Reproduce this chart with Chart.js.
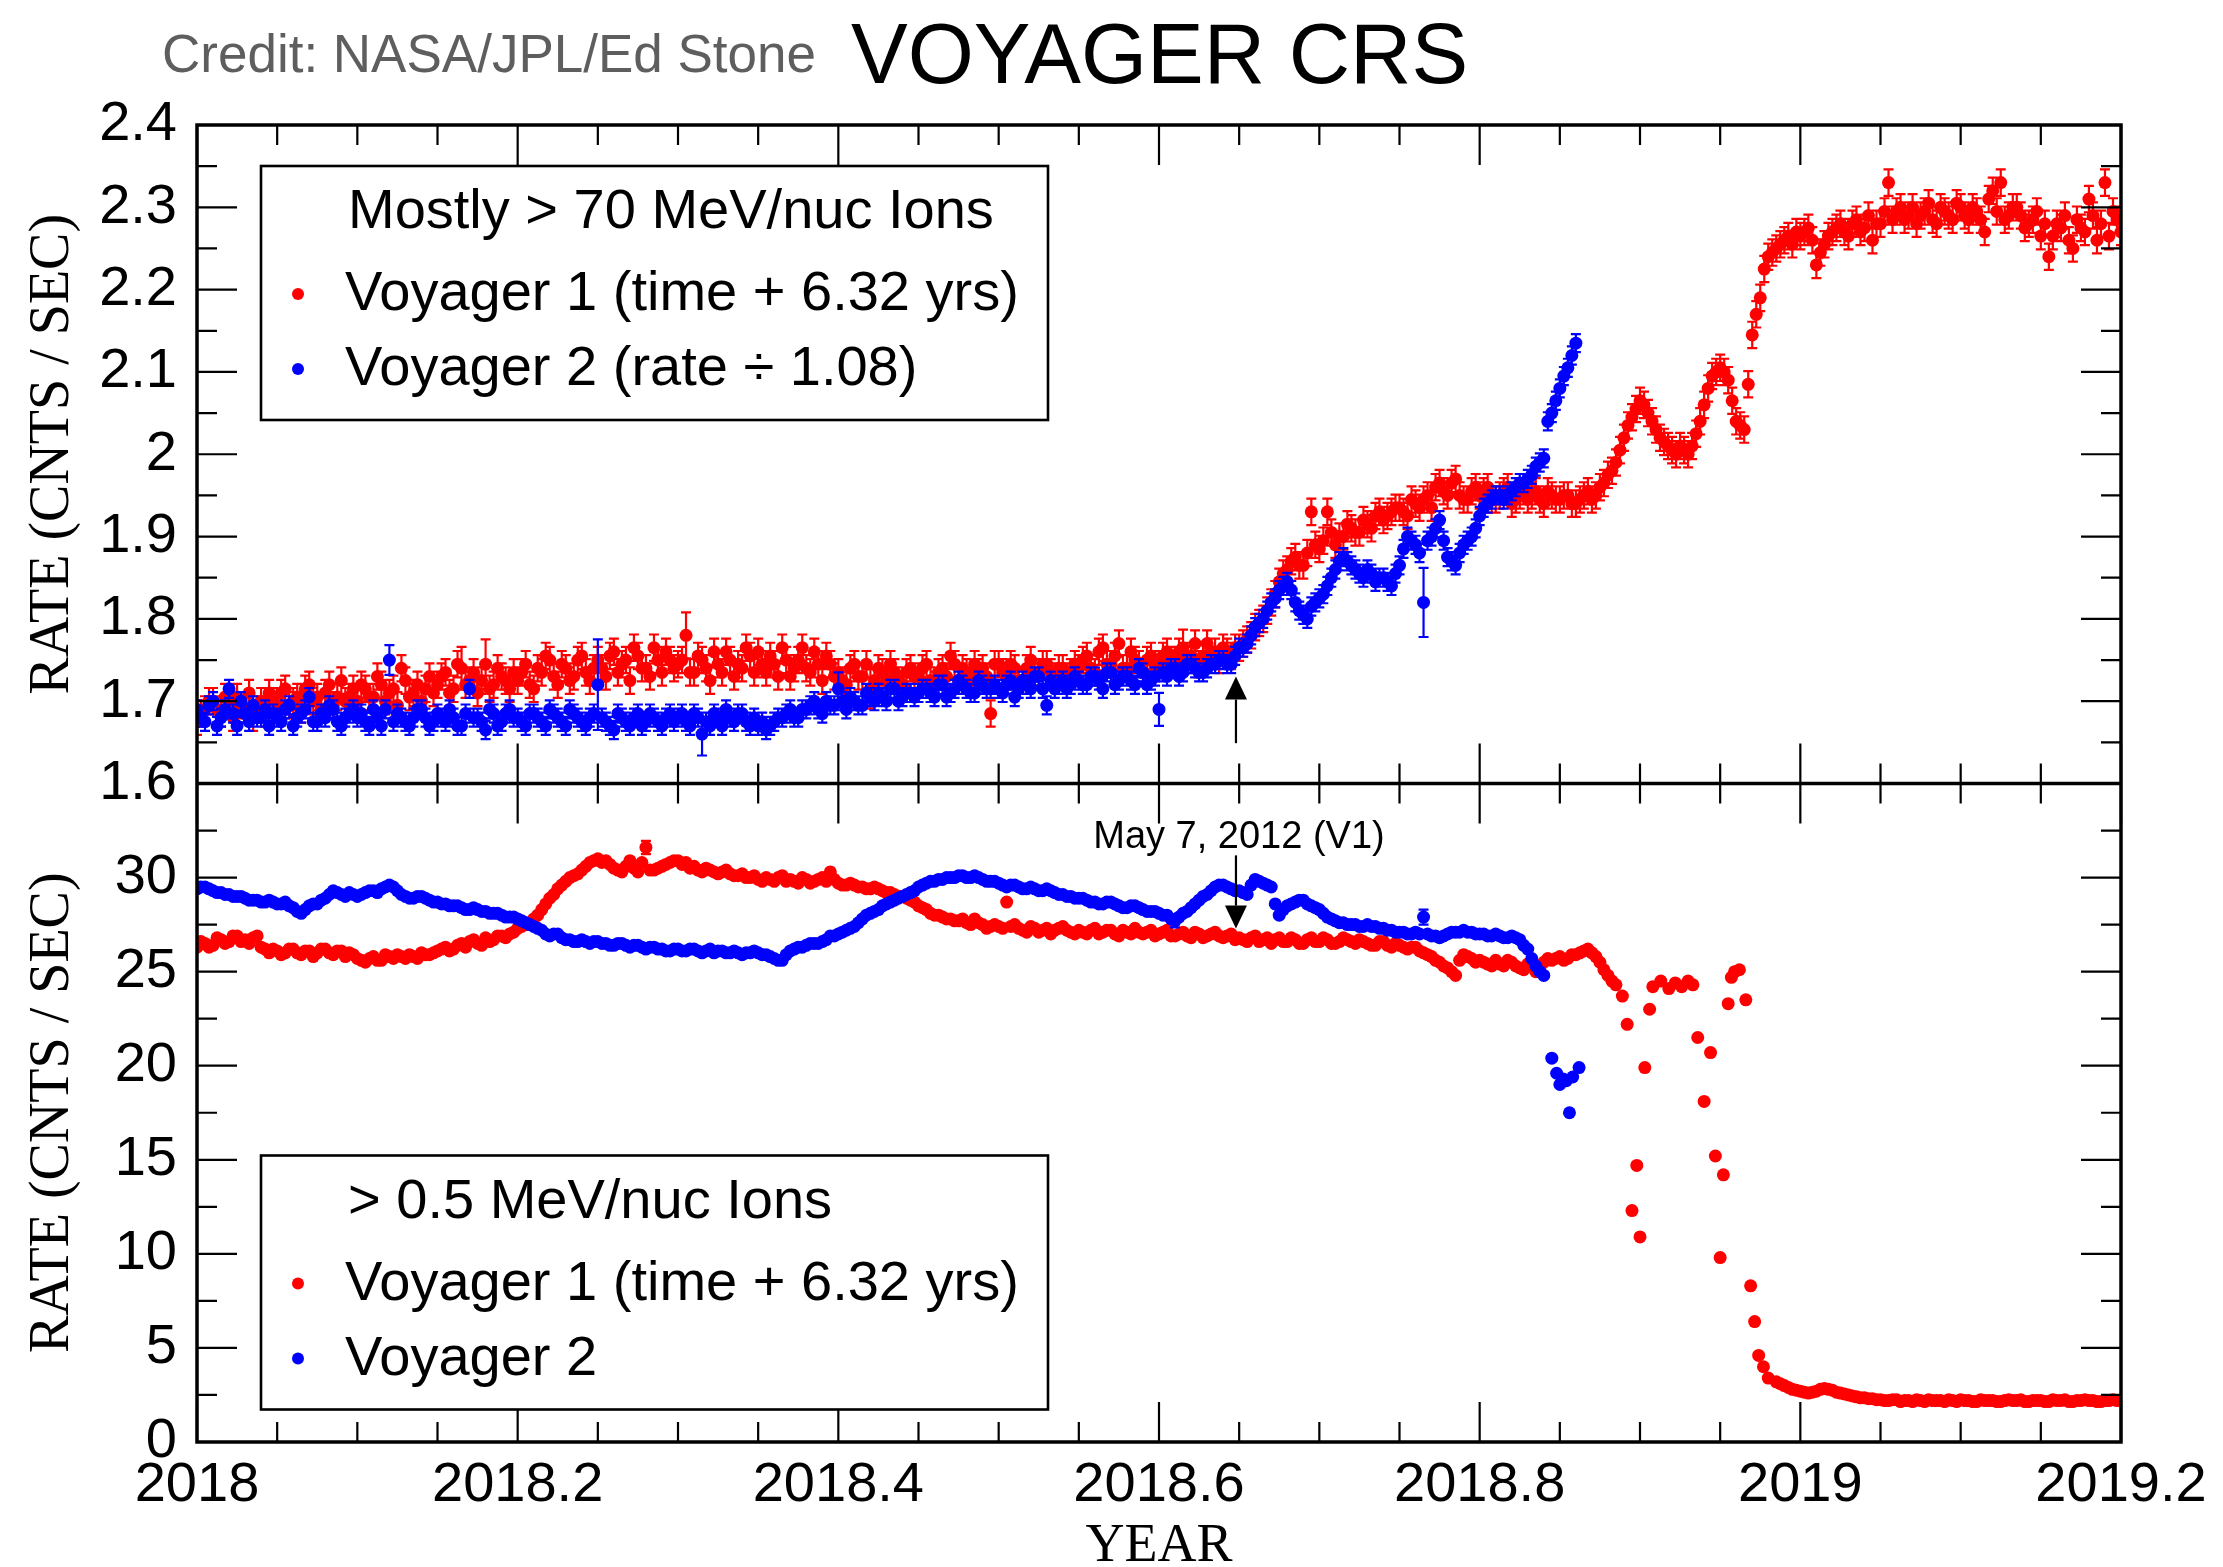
<!DOCTYPE html>
<html>
<head>
<meta charset="utf-8">
<title>Voyager CRS</title>
<script src="https://cdn.jsdelivr.net/npm/chart.js@4.4.1/dist/chart.umd.min.js"></script>
<style>
  html, body { margin: 0; padding: 0; background: #fff; }
  canvas { display: block; }
</style>
</head>
<body>
<canvas id="crs" width="2223" height="1567"></canvas>
<script>
// regular series are sampled every 0.005 yr from their start year;
// the *Mid arrays hold the samples that fall half a step later
const STEP = 0.005;

const yearTicks = [2018, 2018.2, 2018.4, 2018.6, 2018.8, 2019, 2019.2];
const highRateTicks = [1.6, 1.7, 1.8, 1.9, 2.0, 2.1, 2.2, 2.3, 2.4];
const lowRateTicks = [0, 5, 10, 15, 20, 25, 30, 35];

// > 70 MeV/nuc, Voyager 1 (time + 6.32 yrs)
const v1HighStart = 2018.0;
const v1HighRate = [
  1.675, 1.690, 1.700, 1.685, 1.695, 1.705, 1.690, 1.680, 1.700, 1.710, // 2018.00
  1.695, 1.715, 1.700, 1.690, 1.720, 1.705, 1.710, 1.695, 1.725, 1.705, // 2018.05
  1.700, 1.715, 1.705, 1.720, 1.710, 1.695, 1.725, 1.710, 1.700, 1.730, // 2018.10
  1.720, 1.735, 1.715, 1.740, 1.725, 1.710, 1.745, 1.720, 1.730, 1.715, // 2018.15
  1.725, 1.745, 1.715, 1.735, 1.750, 1.720, 1.740, 1.730, 1.755, 1.725, // 2018.20
  1.750, 1.730, 1.760, 1.745, 1.725, 1.755, 1.740, 1.765, 1.735, 1.750, // 2018.25
  1.745, 1.780, 1.735, 1.750, 1.725, 1.745, 1.760, 1.730, 1.740, 1.755, // 2018.30
  1.760, 1.735, 1.745, 1.765, 1.730, 1.750, 1.740, 1.760, 1.725, 1.745, // 2018.35
  1.735, 1.720, 1.745, 1.730, 1.715, 1.740, 1.725, 1.735, 1.720, 1.740, // 2018.40
  1.730, 1.745, 1.720, 1.740, 1.755, 1.725, 1.735, 1.745, 1.740, 1.685, // 2018.45
  1.745, 1.730, 1.740, 1.725, 1.750, 1.735, 1.745, 1.730, 1.740, 1.735, // 2018.50
  1.740, 1.755, 1.735, 1.765, 1.745, 1.770, 1.740, 1.750, 1.735, 1.755, // 2018.55
  1.745, 1.760, 1.750, 1.765, 1.755, 1.745, 1.770, 1.760, 1.765, 1.755, // 2018.60
  1.765, 1.775, 1.790, 1.800, 1.820, 1.845, 1.860, 1.875, 1.865, 1.930, // 2018.65
  1.885, 1.930, 1.890, 1.900, 1.910, 1.905, 1.915, 1.925, 1.920, 1.930, // 2018.70
  1.935, 1.925, 1.940, 1.945, 1.935, 1.965, 1.950, 1.970, 1.945, 1.955, // 2018.75
  1.950, 1.960, 1.945, 1.955, 1.940, 1.950, 1.945, 1.955, 1.940, 1.950, // 2018.80
  1.945, 1.950, 1.940, 1.950, 1.945, 1.960, 1.975, 1.990, 2.020, 2.045, // 2018.85
  2.065, 2.050, 2.030, 2.015, 2.005, 2.010, 2.000, 2.025, 2.060, 2.095, // 2018.90
  2.105, 2.090, 2.040, 2.030, 2.145, 2.190, 2.240, 2.250, 2.260, 2.255, // 2018.95
  2.265, 2.275, 2.230, 2.255, 2.270, 2.280, 2.265, 2.285, 2.275, 2.260, // 2019.00
  2.280, 2.330, 2.295, 2.285, 2.300, 2.290, 2.305, 2.280, 2.295, 2.285, // 2019.05
  2.300, 2.285, 2.295, 2.270, 2.320, 2.330, 2.290, 2.300, 2.275, 2.285, // 2019.10
  2.265, 2.240, 2.280, 2.290, 2.250, 2.275, 2.310, 2.260, 2.330, 2.295, // 2019.15
  2.270                                                                 // 2019.20
];
const v1HighMidStart = 2018.0025;
const v1HighMid = [
  1.685, 1.700, 1.690, 1.705, 1.680, 1.695, 1.710, 1.690, 1.685, 1.700, // 2018.0025
  1.710, 1.695, 1.705, 1.715, 1.700, 1.690, 1.720, 1.705, 1.700, 1.715, // 2018.0525
  1.720, 1.705, 1.730, 1.700, 1.715, 1.740, 1.705, 1.720, 1.715, 1.710, // 2018.1025
  1.730, 1.710, 1.745, 1.720, 1.735, 1.725, 1.715, 1.740, 1.725, 1.735, // 2018.1525
  1.735, 1.720, 1.740, 1.755, 1.730, 1.745, 1.725, 1.750, 1.735, 1.740, // 2018.2025
  1.740, 1.755, 1.735, 1.750, 1.765, 1.740, 1.730, 1.750, 1.760, 1.740, // 2018.2525
  1.750, 1.735, 1.755, 1.740, 1.760, 1.735, 1.750, 1.745, 1.765, 1.735, // 2018.3025
  1.745, 1.755, 1.730, 1.750, 1.740, 1.765, 1.735, 1.745, 1.755, 1.730, // 2018.3525
  1.725, 1.740, 1.730, 1.745, 1.725, 1.735, 1.745, 1.725, 1.735, 1.730, // 2018.4025
  1.740, 1.725, 1.735, 1.730, 1.745, 1.740, 1.725, 1.735, 1.730, 1.745, // 2018.4525
  1.735, 1.745, 1.725, 1.740, 1.730, 1.745, 1.735, 1.740, 1.730, 1.745, // 2018.5025
  1.750, 1.740, 1.760, 1.745, 1.755, 1.740, 1.760, 1.745, 1.750, 1.740, // 2018.5525
  1.755, 1.745, 1.760, 1.750, 1.770, 1.755, 1.760, 1.750, 1.760, 1.765, // 2018.6025
  1.770, 1.780, 1.795, 1.810, 1.830, 1.855, 1.870, 1.865, 1.880, 1.890, // 2018.6525
  1.895, 1.905, 1.900, 1.915, 1.905, 1.920, 1.910, 1.930, 1.925, 1.935, // 2018.7025
  1.930, 1.945, 1.935, 1.950, 1.960, 1.955, 1.965, 1.950, 1.945, 1.960, // 2018.7525
  1.955, 1.945, 1.950, 1.960, 1.945, 1.955, 1.950, 1.945, 1.955, 1.945, // 2018.8025
  1.950, 1.940, 1.945, 1.955, 1.950, 1.965, 1.980, 2.005, 2.035, 2.055, // 2018.8525
  2.060, 2.040, 2.020, 2.010, 2.000, 2.005, 2.010, 2.040, 2.080, 2.100, // 2018.9025
  2.100, 2.065, 2.035, 2.085, 2.170, 2.225, 2.245, 2.255, 2.265, 2.270, // 2018.9525
  2.270, 2.260, 2.245, 2.265, 2.275, 2.270, 2.280, 2.270, 2.290, 2.280, // 2019.0025
  2.295, 2.285, 2.300, 2.290, 2.280, 2.295, 2.285, 2.300, 2.290, 2.305, // 2019.0525
  2.290, 2.300, 2.285, 2.310, 2.295, 2.285, 2.300, 2.290, 2.280, 2.295, // 2019.1025
  2.280, 2.265, 2.275, 2.260, 2.285, 2.270, 2.290, 2.280, 2.265, 2.285  // 2019.1525
];
const v1HighErr = 0.016;
const v1HighWideErr = [[2018.165, 0.026], [2018.18, 0.03], [2018.305, 0.028], [2018.42, 0.024], [2018.615, 0.022]];

// > 70 MeV/nuc, Voyager 2 (rate / 1.08)
const v2HighStart = 2018.0;
const v2HighRate = [
  1.690, 1.675, 1.700, 1.680, 1.715, 1.670, 1.685, 1.695, 1.680, 1.670, // 2018.00
  1.680, 1.690, 1.670, 1.685, 1.705, 1.675, 1.680, 1.690, 1.670, 1.685, // 2018.05
  1.680, 1.675, 1.690, 1.670, 1.750, 1.685, 1.675, 1.680, 1.690, 1.670, // 2018.10
  1.685, 1.675, 1.680, 1.670, 1.715, 1.680, 1.665, 1.685, 1.675, 1.690, // 2018.15
  1.680, 1.670, 1.685, 1.675, 1.690, 1.680, 1.670, 1.685, 1.675, 1.680, // 2018.20
  1.720, 1.675, 1.665, 1.680, 1.670, 1.685, 1.675, 1.680, 1.670, 1.685, // 2018.25
  1.680, 1.675, 1.685, 1.660, 1.670, 1.680, 1.690, 1.675, 1.685, 1.670, // 2018.30
  1.670, 1.665, 1.675, 1.680, 1.690, 1.680, 1.690, 1.700, 1.685, 1.695, // 2018.35
  1.715, 1.690, 1.700, 1.695, 1.705, 1.710, 1.700, 1.715, 1.705, 1.710, // 2018.40
  1.710, 1.715, 1.705, 1.720, 1.710, 1.725, 1.715, 1.710, 1.720, 1.715, // 2018.45
  1.715, 1.720, 1.705, 1.725, 1.715, 1.730, 1.695, 1.715, 1.725, 1.720, // 2018.50
  1.725, 1.720, 1.730, 1.715, 1.735, 1.725, 1.730, 1.720, 1.735, 1.725, // 2018.55
  1.690, 1.730, 1.740, 1.735, 1.745, 1.735, 1.740, 1.745, 1.750, 1.745, // 2018.60
  1.765, 1.770, 1.790, 1.800, 1.820, 1.835, 1.845, 1.820, 1.805, 1.815, // 2018.65
  1.825, 1.840, 1.860, 1.875, 1.865, 1.855, 1.860, 1.845, 1.850, 1.840, // 2018.70
  1.865, 1.900, 1.890, 1.820, 1.900, 1.920, 1.875, 1.865, 1.890, 1.900, // 2018.75
  1.925, 1.940, 1.950, 1.945, 1.955, 1.965, 1.970, 1.985, 1.995, 2.050, // 2018.80
  2.080, 2.105, 2.135                                                   // 2018.85
];
const v2HighMidStart = 2018.0025;
const v2HighMid = [
  1.680, 1.695, 1.670, 1.690, 1.685, 1.700, 1.675, 1.680, 1.690, 1.685, // 2018.0025
  1.675, 1.695, 1.680, 1.690, 1.675, 1.685, 1.695, 1.675, 1.680, 1.690, // 2018.0525
  1.685, 1.670, 1.680, 1.690, 1.675, 1.680, 1.670, 1.690, 1.680, 1.675, // 2018.1025
  1.680, 1.690, 1.670, 1.685, 1.680, 1.675, 1.690, 1.670, 1.685, 1.680, // 2018.1525
  1.675, 1.685, 1.680, 1.670, 1.685, 1.675, 1.690, 1.680, 1.670, 1.685, // 2018.2025
  1.680, 1.670, 1.685, 1.675, 1.680, 1.670, 1.685, 1.675, 1.680, 1.675, // 2018.2525
  1.685, 1.670, 1.680, 1.675, 1.685, 1.670, 1.680, 1.685, 1.675, 1.680, // 2018.3025
  1.675, 1.670, 1.680, 1.685, 1.680, 1.690, 1.695, 1.690, 1.700, 1.695, // 2018.3525
  1.700, 1.705, 1.695, 1.710, 1.700, 1.705, 1.715, 1.700, 1.710, 1.705, // 2018.4025
  1.715, 1.710, 1.720, 1.705, 1.715, 1.720, 1.710, 1.725, 1.715, 1.720, // 2018.4525
  1.710, 1.725, 1.715, 1.720, 1.730, 1.715, 1.725, 1.720, 1.715, 1.730, // 2018.5025
  1.720, 1.730, 1.725, 1.735, 1.720, 1.730, 1.725, 1.740, 1.720, 1.730, // 2018.5525
  1.735, 1.740, 1.730, 1.745, 1.740, 1.735, 1.745, 1.750, 1.745, 1.755, // 2018.6025
  1.765, 1.780, 1.795, 1.810, 1.825, 1.840, 1.835, 1.810, 1.800, 1.820, // 2018.6525
  1.830, 1.850, 1.870, 1.870, 1.860, 1.850, 1.855, 1.850, 1.845, 1.855, // 2018.7025
  1.885, 1.895, 1.880, 1.895, 1.910, 1.895, 1.870, 1.880, 1.895, 1.910, // 2018.7525
  1.935, 1.945, 1.950, 1.950, 1.960, 1.965, 1.975, 1.990, 2.040, 2.065, // 2018.8025
  2.095, 2.120                                                          // 2018.8525
];
const v2HighErr = 0.011;
const v2HighWideErr = [[2018.12, 0.018], [2018.25, 0.055], [2018.315, 0.026], [2018.4, 0.02], [2018.6, 0.02], [2018.765, 0.042]];

// > 0.5 MeV/nuc, Voyager 1 (time + 6.32 yrs)
const v1LowStart = 2018.0;
const v1LowRate = [
  26.3, 26.5, 26.4, 26.7, 26.6, 26.9, 26.7, 26.8, 26.3, 26.0, // 2018.00
  26.1, 26.0, 26.2, 25.9, 26.1, 26.0, 26.2, 25.9, 26.1, 26.0, // 2018.05
  25.7, 25.5, 25.8, 25.6, 25.8, 25.9, 25.7, 25.8, 26.0, 25.9, // 2018.10
  26.1, 26.3, 26.2, 26.5, 26.6, 26.5, 26.8, 26.7, 26.9, 27.0, // 2018.15
  27.3, 27.5, 27.8, 28.3, 28.9, 29.4, 29.8, 30.1, 30.4, 30.8, // 2018.20
  31.0, 30.9, 30.5, 30.3, 30.9, 30.3, 31.6, 30.4, 30.6, 30.8, // 2018.25
  30.9, 30.8, 30.6, 30.3, 30.4, 30.2, 30.4, 30.1, 30.2, 30.0, // 2018.30
  29.9, 30.0, 29.8, 30.1, 29.9, 29.7, 29.9, 29.8, 30.0, 30.3, // 2018.35
  29.7, 29.6, 29.6, 29.5, 29.4, 29.4, 29.2, 29.1, 29.0, 28.8, // 2018.40
  28.5, 28.3, 28.0, 27.9, 27.8, 27.7, 27.6, 27.8, 27.5, 27.4, // 2018.45
  27.4, 28.7, 27.5, 27.2, 27.4, 27.1, 27.3, 27.2, 27.4, 27.1, // 2018.50
  27.2, 27.0, 27.3, 27.1, 27.2, 26.9, 27.1, 27.3, 27.0, 27.2, // 2018.55
  27.0, 27.2, 26.9, 27.1, 26.8, 27.0, 26.9, 27.1, 26.8, 27.0, // 2018.60
  26.8, 26.6, 26.9, 26.7, 26.5, 26.8, 26.6, 26.7, 26.5, 26.8, // 2018.65
  26.6, 26.7, 26.5, 26.8, 26.6, 26.7, 26.5, 26.4, 26.6, 26.3, // 2018.70
  26.4, 26.2, 26.3, 26.0, 25.8, 25.5, 25.2, 24.8, 25.9, 25.7, // 2018.75
  25.6, 25.4, 25.6, 25.3, 25.5, 25.2, 25.4, 25.0, 25.5, 25.6, // 2018.80
  25.8, 25.7, 25.9, 26.1, 26.0, 25.5, 24.8, 24.3              // 2018.85
];
const v1LowMidStart = 2018.0025;
const v1LowMid = [
  26.6, 26.3, 26.8, 26.5, 26.9, 26.6, 26.5, 26.9, 26.2, 26.2, // 2018.0025
  25.9, 26.2, 26.0, 26.1, 25.8, 26.2, 26.0, 26.1, 25.8, 25.9, // 2018.0525
  25.6, 25.7, 25.6, 25.9, 25.7, 25.8, 25.9, 25.7, 25.9, 26.0, // 2018.1025
  26.2, 26.1, 26.4, 26.3, 26.7, 26.4, 26.6, 26.9, 26.8, 27.1, // 2018.1525
  27.4, 27.6, 28.0, 28.6, 29.1, 29.6, 30.0, 30.2, 30.6, 30.9, // 2018.2025
  30.8, 30.7, 30.4, 30.6, 30.5, 30.8, 30.4, 30.5, 30.7, 30.9, // 2018.2525
  30.7, 30.5, 30.4, 30.5, 30.3, 30.3, 30.2, 30.1, 30.0, 30.1, // 2018.3025
  29.8, 29.9, 30.0, 29.8, 29.8, 30.0, 29.7, 29.9, 29.8, 29.9, // 2018.3525
  29.6, 29.7, 29.5, 29.4, 29.5, 29.3, 29.2, 29.0, 28.9, 28.7, // 2018.4025
  28.4, 28.1, 28.0, 27.8, 27.7, 27.8, 27.5, 27.6, 27.3, 27.5, // 2018.4525
  27.3, 27.4, 27.3, 27.1, 27.3, 27.2, 27.0, 27.3, 27.2, 27.0, // 2018.5025
  27.1, 27.2, 27.0, 27.2, 27.0, 27.2, 27.0, 27.1, 27.1, 26.9, // 2018.5525
  27.1, 26.9, 27.0, 26.9, 27.1, 26.8, 27.0, 26.9, 26.9, 26.7, // 2018.6025
  26.7, 26.8, 26.6, 26.8, 26.7, 26.6, 26.8, 26.5, 26.7, 26.6, // 2018.6525
  26.8, 26.5, 26.6, 26.7, 26.5, 26.6, 26.4, 26.6, 26.4, 26.5, // 2018.7025
  26.3, 26.3, 26.1, 25.9, 25.6, 25.3, 25.0, 25.6, 25.8, 25.5, // 2018.7525
  25.5, 25.3, 25.4, 25.6, 25.3, 25.1, 25.3, 25.2, 25.7, 25.7, // 2018.8025
  25.6, 25.9, 26.0, 26.2, 25.8, 25.1, 24.5                    // 2018.8525
];
// the scattered points during the drop are irregular in time
const v1LowDropYear = [
  2018.889, 2018.892, 2018.895, 2018.898, 2018.900, 2018.903, 2018.906, 2018.908,
  2018.913, 2018.918, 2018.922, 2018.926, 2018.930, 2018.933, 2018.936, 2018.940,
  2018.944, 2018.947, 2018.950, 2018.952, 2018.955, 2018.957, 2018.959, 2018.962,
  2018.966, 2018.969, 2018.9715, 2018.974, 2018.977, 2018.980
];
const v1LowDropRate = [
  23.7, 22.2, 12.3, 14.7, 10.9, 19.9, 23.0, 24.2,
  24.5, 24.1, 24.4, 24.2, 24.5, 24.3, 21.5, 18.1,
  20.7, 15.2, 9.8, 14.2, 23.3, 24.7, 25.0, 25.1,
  23.5, 8.3, 6.4, 4.6, 4.0, 3.4
];
const v1LowTailStart = 2018.985;
const v1LowTailRate = [
  3.2, 3.0, 2.8,                                         // 2018.985
  2.7, 2.6, 2.7, 2.85, 2.75, 2.6, 2.5, 2.4, 2.35, 2.3,   // 2019.00
  2.25, 2.2, 2.25, 2.2, 2.15, 2.2, 2.25, 2.2, 2.15, 2.2, // 2019.05
  2.25, 2.2, 2.15, 2.2, 2.2, 2.15, 2.25, 2.2, 2.15, 2.2, // 2019.10
  2.2, 2.15, 2.2, 2.25, 2.15, 2.2, 2.2, 2.15, 2.2, 2.25, // 2019.15
  2.2                                                    // 2019.20
];
const v1LowTailMidStart = 2018.9875;
const v1LowTailMid = [
  3.1, 2.9, 2.75,                                             // 2018.9875
  2.65, 2.65, 2.8, 2.8, 2.65, 2.55, 2.45, 2.35, 2.3, 2.25,    // 2019.0025
  2.2, 2.25, 2.15, 2.2, 2.25, 2.15, 2.2, 2.2, 2.25, 2.15,     // 2019.0525
  2.2, 2.15, 2.25, 2.2, 2.15, 2.2, 2.2, 2.25, 2.15, 2.2,      // 2019.1025
  2.15, 2.25, 2.2, 2.15, 2.2, 2.25, 2.2, 2.15, 2.2, 2.2       // 2019.1525
];
const v1LowWideErr = [[2018.28, 0.35]];

// > 0.5 MeV/nuc, Voyager 2
const v2LowStart = 2018.0;
const v2LowRate = [
  29.4, 29.5, 29.3, 29.2, 29.1, 29.0, 28.9, 28.8, 28.7, 28.8, // 2018.00
  28.6, 28.7, 28.4, 28.1, 28.5, 28.6, 28.9, 29.3, 29.1, 29.2, // 2018.05
  29.0, 29.2, 29.3, 29.4, 29.6, 29.3, 29.0, 28.9, 29.0, 28.8, // 2018.10
  28.7, 28.6, 28.5, 28.4, 28.3, 28.3, 28.2, 28.1, 28.0, 27.9, // 2018.15
  27.8, 27.6, 27.4, 27.2, 26.9, 27.0, 26.7, 26.6, 26.7, 26.5, // 2018.20
  26.6, 26.5, 26.4, 26.5, 26.3, 26.4, 26.2, 26.3, 26.2, 26.1, // 2018.25
  26.2, 26.1, 26.2, 26.0, 26.2, 26.1, 26.0, 26.1, 25.9, 26.0, // 2018.30
  26.0, 25.9, 25.7, 25.6, 26.1, 26.3, 26.4, 26.5, 26.6, 26.9, // 2018.35
  27.0, 27.2, 27.4, 27.8, 28.1, 28.3, 28.6, 28.8, 29.0, 29.2, // 2018.40
  29.5, 29.7, 29.8, 29.9, 30.0, 30.1, 30.0, 30.1, 29.9, 29.8, // 2018.45
  29.7, 29.5, 29.6, 29.4, 29.5, 29.3, 29.4, 29.2, 29.1, 29.0, // 2018.50
  28.9, 28.8, 28.7, 28.6, 28.7, 28.5, 28.4, 28.5, 28.3, 28.2, // 2018.55
  28.1, 28.0, 27.7, 28.1, 28.4, 28.8, 29.1, 29.5, 29.6, 29.4, // 2018.60
  29.3, 29.1, 29.9, 29.7, 29.5, 28.0, 28.5, 28.7, 28.8, 28.5, // 2018.65
  28.3, 27.9, 27.7, 27.6, 27.5, 27.4, 27.5, 27.4, 27.3, 27.2, // 2018.70
  27.1, 27.0, 27.1, 27.9, 26.9, 26.8, 27.0, 27.1, 27.2, 27.1, // 2018.75
  27.0, 26.9, 27.0, 26.8, 26.9, 26.7, 26.2, 25.3, 24.8        // 2018.80
];
const v2LowMidStart = 2018.0025;
const v2LowMid = [
  29.5, 29.4, 29.2, 29.1, 29.0, 29.0, 28.8, 28.8, 28.7, 28.7, // 2018.0025
  28.6, 28.5, 28.2, 28.3, 28.6, 28.8, 29.1, 29.2, 29.0, 29.1, // 2018.0525
  29.1, 29.3, 29.2, 29.5, 29.5, 29.1, 28.9, 29.0, 28.9, 28.7, // 2018.1025
  28.6, 28.5, 28.5, 28.3, 28.4, 28.2, 28.1, 28.1, 27.9, 27.9, // 2018.1525
  27.7, 27.5, 27.3, 27.0, 27.0, 26.8, 26.7, 26.6, 26.6, 26.6, // 2018.2025
  26.5, 26.4, 26.5, 26.4, 26.4, 26.3, 26.3, 26.2, 26.1, 26.2, // 2018.2525
  26.1, 26.2, 26.1, 26.1, 26.0, 26.1, 26.0, 26.0, 26.0, 26.1, // 2018.3025
  25.9, 25.8, 25.6, 25.9, 26.2, 26.3, 26.5, 26.5, 26.7, 26.9, // 2018.3525
  27.1, 27.3, 27.6, 28.0, 28.2, 28.5, 28.7, 28.9, 29.1, 29.3, // 2018.4025
  29.6, 29.8, 29.9, 30.0, 30.0, 30.1, 30.0, 30.0, 29.8, 29.8, // 2018.4525
  29.6, 29.6, 29.5, 29.4, 29.4, 29.3, 29.3, 29.1, 29.0, 28.9, // 2018.5025
  28.9, 28.7, 28.6, 28.7, 28.6, 28.4, 28.5, 28.4, 28.2, 28.2, // 2018.5525
  28.0, 27.8, 27.9, 28.2, 28.6, 29.0, 29.3, 29.6, 29.5, 29.3, // 2018.6025
  29.2, 29.6, 29.8, 29.6, 28.6, 28.3, 28.6, 28.8, 28.6, 28.4, // 2018.6525
  28.1, 27.8, 27.6, 27.5, 27.5, 27.4, 27.4, 27.3, 27.2, 27.1, // 2018.7025
  27.1, 27.0, 27.0, 27.0, 26.9, 26.9, 27.1, 27.1, 27.1, 27.0, // 2018.7525
  27.0, 26.9, 26.9, 26.8, 26.8, 26.4, 25.7, 25.0              // 2018.8025
];
const v2LowDropYear = [2018.845, 2018.848, 2018.850, 2018.852, 2018.854, 2018.856, 2018.858, 2018.862];
const v2LowDropRate = [20.4, 19.6, 19.0, 19.3, 19.2, 17.5, 19.4, 19.9];
const v2LowWideErr = [[2018.61, 0.35], [2018.765, 0.4]];

// V1 event, shifted onto the V2 time axis
const eventYear = 2018.648;
const eventLabel = 'May 7, 2012 (V1)';

const RED = '#ff0000';
const BLUE = '#0000ff';
const SANS = '"Liberation Sans", Arial, Helvetica, sans-serif';
const SERIF = '"Liberation Serif", "Times New Roman", Times, serif';

function onGrid(start, rates) {
  return rates.map((r, i) => ({ x: +(start + i * STEP).toFixed(4), y: r }));
}
function paired(years, rates) {
  return years.map((yr, i) => ({ x: yr, y: rates[i] }));
}
function trimLabel(v) {
  return String(+(+v).toFixed(2));
}
// major ticks plus evenly spaced minor ticks between them
function withMinors(majors, parts) {
  const out = [];
  majors.forEach((v, i) => {
    out.push({ v, major: true });
    if (i < majors.length - 1) {
      const d = (majors[i + 1] - v) / parts;
      for (let k = 1; k < parts; k++) out.push({ v: v + k * d, major: false });
    }
  });
  return out;
}

const paperBackground = {
  id: 'paperBackground',
  beforeDraw(chart) {
    const { ctx, width, height } = chart;
    ctx.save();
    ctx.fillStyle = '#fff';
    ctx.fillRect(0, 0, width, height);
    ctx.restore();
  }
};

// vertical error bars with caps, drawn just under each dataset's markers
const errorBars = {
  id: 'errorBars',
  beforeDatasetDraw(chart, args) {
    const ds = chart.data.datasets[args.index];
    if (ds.errTypical === undefined) return;
    const { ctx, chartArea: a } = chart;
    const scale = chart.scales[ds.yAxisID];
    ctx.save();
    ctx.beginPath();
    ctx.rect(a.left, a.top, a.right - a.left, a.bottom - a.top);
    ctx.clip();
    ctx.strokeStyle = ds.backgroundColor;
    ctx.lineWidth = 2.2;
    ctx.beginPath();
    args.meta.data.forEach((pt, i) => {
      const d = ds.data[i];
      const wide = (ds.errWide || []).find(w => Math.abs(w[0] - d.x) < 1e-6);
      const e = wide ? wide[1] : ds.errTypical;
      if (!e) return;
      const y0 = scale.getPixelForValue(d.y - e);
      const y1 = scale.getPixelForValue(d.y + e);
      ctx.moveTo(pt.x, y0); ctx.lineTo(pt.x, y1);
      ctx.moveTo(pt.x - 5, y0); ctx.lineTo(pt.x + 5, y0);
      ctx.moveTo(pt.x - 5, y1); ctx.lineTo(pt.x + 5, y1);
    });
    ctx.stroke();
    ctx.restore();
  }
};

// inward ticks on every side of both panels, then the frame itself
const frameAndTicks = {
  id: 'frameAndTicks',
  afterDatasetsDraw(chart) {
    const { ctx, chartArea: a, scales: { x, yHigh, yLow } } = chart;
    ctx.save();
    ctx.strokeStyle = '#000';
    ctx.lineWidth = 2.2;
    ctx.beginPath();
    const xt = withMinors(yearTicks, 4);
    [[yHigh.top, 1], [yHigh.bottom, -1], [yLow.top, 1], [yLow.bottom, -1]].forEach(([edge, dir]) => {
      xt.forEach(t => {
        const px = x.getPixelForValue(t.v);
        ctx.moveTo(px, edge);
        ctx.lineTo(px, edge + dir * (t.major ? 40 : 20));
      });
    });
    [[yHigh, highRateTicks], [yLow, lowRateTicks]].forEach(([scale, majors]) => {
      withMinors(majors, 2).forEach(t => {
        const py = scale.getPixelForValue(t.v);
        const len = t.major ? 40 : 20;
        ctx.moveTo(a.left, py); ctx.lineTo(a.left + len, py);
        ctx.moveTo(a.right, py); ctx.lineTo(a.right - len, py);
      });
    });
    ctx.stroke();
    ctx.lineWidth = 3.5;
    ctx.strokeRect(a.left, a.top, a.right - a.left, a.bottom - a.top);
    ctx.beginPath();
    ctx.moveTo(a.left, yHigh.bottom);
    ctx.lineTo(a.right, yHigh.bottom);
    ctx.stroke();
    ctx.restore();
  }
};

function arrow(ctx, px, yTail, yTip) {
  const dir = yTip < yTail ? -1 : 1;
  const headLen = 23, half = 11;
  ctx.beginPath();
  ctx.moveTo(px, yTail);
  ctx.lineTo(px, yTip - dir * headLen);
  ctx.stroke();
  ctx.beginPath();
  ctx.moveTo(px, yTip);
  ctx.lineTo(px - half, yTip - dir * headLen);
  ctx.lineTo(px + half, yTip - dir * headLen);
  ctx.closePath();
  ctx.fill();
}

function legendBox(ctx, left, top, heading, entries) {
  const w = 787, h = 254;
  ctx.fillStyle = '#fff';
  ctx.fillRect(left, top, w, h);
  ctx.strokeStyle = '#000';
  ctx.lineWidth = 2.6;
  ctx.strokeRect(left, top, w, h);
  ctx.font = '56px ' + SANS;
  ctx.textAlign = 'left';
  ctx.textBaseline = 'alphabetic';
  ctx.fillStyle = '#000';
  ctx.fillText(heading, left + 87, top + 62);
  entries.forEach((ds, i) => {
    const base = top + 144 + i * 75;
    ctx.fillStyle = ds.backgroundColor;
    ctx.beginPath();
    ctx.arc(left + 37, base - 16, 6, 0, Math.PI * 2);
    ctx.fill();
    ctx.fillStyle = '#000';
    ctx.fillText(ds.label, left + 84, base);
  });
}

const notes = {
  id: 'notes',
  afterDraw(chart) {
    const { ctx, chartArea: a, scales: { x, yHigh, yLow } } = chart;
    const sets = chart.data.datasets;
    ctx.save();

    legendBox(ctx, a.left + 64, a.top + 41, 'Mostly > 70 MeV/nuc Ions', [sets[1], sets[0]]);
    legendBox(ctx, a.left + 64, yLow.top + 372, '> 0.5 MeV/nuc Ions', [sets[3], sets[2]]);

    // event marker in both panels
    const ex = x.getPixelForValue(eventYear);
    ctx.strokeStyle = '#000';
    ctx.fillStyle = '#000';
    ctx.lineWidth = 2.2;
    arrow(ctx, ex, yHigh.getPixelForValue(1.649), yHigh.getPixelForValue(1.730));
    arrow(ctx, ex, yLow.getPixelForValue(31.18), yLow.getPixelForValue(27.29));
    ctx.font = '38px ' + SANS;
    ctx.textAlign = 'center';
    ctx.textBaseline = 'alphabetic';
    ctx.fillText(eventLabel, ex + 3, yLow.getPixelForValue(31.56));

    // headings above the frame
    ctx.textAlign = 'left';
    ctx.fillStyle = '#5e5e5e';
    ctx.font = '53px ' + SANS;
    ctx.fillText('Credit: NASA/JPL/Ed Stone', 162, 72);
    ctx.fillStyle = '#000';
    ctx.font = '85px ' + SANS;
    ctx.fillText('VOYAGER CRS', 851, 83);

    ctx.textAlign = 'center';
    ctx.font = '54px ' + SERIF;
    ctx.fillText('YEAR', (a.left + a.right) / 2, 1561);
    ctx.restore();
  }
};

function rateAxis(ticks, weight, hideLast) {
  return {
    type: 'linear',
    axis: 'y',
    position: 'left',
    stack: 'rates',
    stackWeight: 1,
    weight,
    min: ticks[0],
    max: ticks[ticks.length - 1],
    afterBuildTicks: s => { s.ticks = ticks.map(v => ({ value: v })); },
    afterFit: s => { s.width = 197; },
    grid: { display: false, drawTicks: false },
    border: { display: false },
    ticks: {
      autoSkip: false,
      padding: 20,
      color: '#000',
      font: { family: SANS, size: 56 },
      callback: v => (hideLast && v === ticks[ticks.length - 1]) ? '' : trimLabel(v)
    },
    title: {
      display: true,
      text: 'RATE (CNTS / SEC)',
      color: '#000',
      font: { family: SERIF, size: 56 },
      padding: { top: 20, bottom: 0 }
    }
  };
}

function series(label, color, axisId, data, errTypical, errWide) {
  return {
    label,
    data,
    yAxisID: axisId,
    backgroundColor: color,
    borderColor: color,
    pointBackgroundColor: color,
    pointBorderWidth: 0,
    pointRadius: 6.5,
    pointHoverRadius: 6.5,
    showLine: false,
    errTypical,
    errWide
  };
}

const datasets = [
  series('Voyager 2 (rate ÷ 1.08)', BLUE, 'yHigh',
    onGrid(v2HighStart, v2HighRate).concat(onGrid(v2HighMidStart, v2HighMid)), v2HighErr, v2HighWideErr),
  series('Voyager 1 (time + 6.32 yrs)', RED, 'yHigh',
    onGrid(v1HighStart, v1HighRate).concat(onGrid(v1HighMidStart, v1HighMid)), v1HighErr, v1HighWideErr),
  series('Voyager 2', BLUE, 'yLow',
    onGrid(v2LowStart, v2LowRate)
      .concat(onGrid(v2LowMidStart, v2LowMid))
      .concat(paired(v2LowDropYear, v2LowDropRate)), 0, v2LowWideErr),
  series('Voyager 1 (time + 6.32 yrs)', RED, 'yLow',
    onGrid(v1LowStart, v1LowRate)
      .concat(onGrid(v1LowMidStart, v1LowMid))
      .concat(paired(v1LowDropYear, v1LowDropRate))
      .concat(onGrid(v1LowTailStart, v1LowTailRate))
      .concat(onGrid(v1LowTailMidStart, v1LowTailMid)), 0, v1LowWideErr)
];

new Chart(document.getElementById('crs'), {
  type: 'scatter',
  data: { datasets },
  options: {
    responsive: false,
    animation: false,
    devicePixelRatio: 1,
    events: [],
    layout: { padding: { top: 125, right: 102, bottom: 0, left: 0 } },
    plugins: { legend: { display: false }, tooltip: { enabled: false }, title: { display: false } },
    scales: {
      x: {
        type: 'linear',
        position: 'bottom',
        min: yearTicks[0],
        max: yearTicks[yearTicks.length - 1],
        afterBuildTicks: s => { s.ticks = yearTicks.map(v => ({ value: v })); },
        afterFit: s => { s.height = 125; },
        grid: { display: false, drawTicks: false },
        border: { display: false },
        ticks: {
          autoSkip: false,
          maxRotation: 0,
          padding: 10,
          color: '#000',
          font: { family: SANS, size: 56 },
          callback: v => trimLabel(v)
        }
      },
      yLow: rateAxis(lowRateTicks, 1, true),
      yHigh: rateAxis(highRateTicks, 2, false)
    }
  },
  plugins: [paperBackground, errorBars, frameAndTicks, notes]
});
</script>
</body>
</html>
